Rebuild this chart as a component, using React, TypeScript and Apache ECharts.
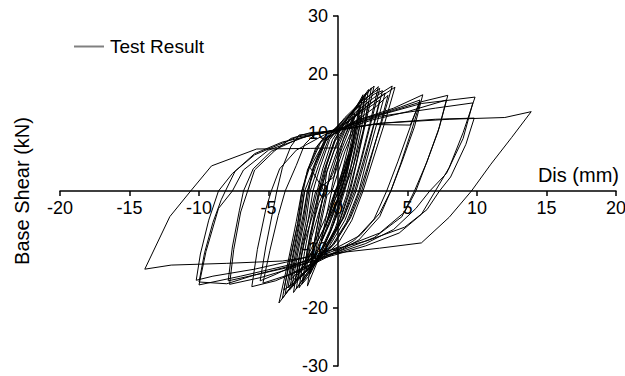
import React, { useEffect, useRef } from "react";
import * as echarts from "echarts";

const xTicks = { min: -20, max: 20, interval: 5 };
const yTicks = { min: -30, max: 30, interval: 10 };
const seriesName = "Test Result";

const c01 = [[0,0],[0.3,2.2],[0.5,3.8],[0.3,2.0],[0,0],[-0.3,-2.0],[-0.6,-3.9],[-0.4,-2.1],[-0.1,0]];
const c02 = [[0.2,2.0],[0.5,4.4],[0.8,6.3],[0.5,3.6],[0.1,0.3],[-0.4,-2.6],[-0.9,-6.2],[-0.6,-3.4],[-0.2,0]];
const c03 = [[0.2,2.6],[0.7,6.0],[1.1,8.6],[0.8,5.0],[0.3,0.6],[-0.3,-3.2],[-1.2,-8.6],[-0.9,-5.0],[-0.5,-0.5]];
const c04 = [[-0.1,2.4],[0.5,6.8],[1.2,10.8],[0.9,6.2],[0.3,0.8],[-0.3,-3.8],[-1.0,-7.6],[-1.7,-11.6],[-1.3,-6.4],[-0.8,-0.8]];
const e01 = [[-0.5,0],[-0.1,4.6],[0.4,9.0],[1.1,12.8],[0.8,8.2],[0.2,2.4],[-0.3,-1.2],[-0.9,-6.0],[-1.7,-11.2],[-2.3,-13.8],[-1.9,-8.0],[-1.2,-2.2],[-0.9,0]];
const e02 = [[-0.6,2.0],[0,6.6],[0.8,11.0],[1.6,14.6],[1.2,9.6],[0.6,3.8],[-0.2,0],[-0.9,-4.6],[-1.9,-9.8],[-2.9,-14.4],[-2.4,-8.6],[-1.7,-3.2],[-1.3,0]];
const e03 = [[-0.9,2.6],[-0.3,6.8],[0.5,10.6],[1.4,13.2],[2.2,15.4],[1.8,10.2],[1.1,4.2],[0.4,0],[-0.4,-3.4],[-1.3,-7.8],[-2.3,-12.2],[-3.1,-15.6],[-2.6,-9.4],[-2.0,-3.8],[-1.6,0]];
const e04 = [[-0.3,2.4],[0.3,6.6],[1.0,10.4],[1.6,13.0],[1.2,8.4],[0.6,2.8],[0.1,-0.6],[-0.6,-4.4],[-1.5,-8.8],[-2.4,-12.8],[-2.0,-7.4],[-1.4,-2.2],[-1.0,0]];
const c05 = [[-0.4,2.8],[0.3,7.4],[1.0,11.6],[1.5,14.0],[1.1,9.0],[0.5,2.6],[0.1,-1.8],[-0.6,-6.8],[-1.4,-11.0],[-2.0,-14.2],[-1.6,-8.8],[-1.1,-3.0],[-0.8,0]];
const c06 = [[-0.6,3.2],[0.1,8.0],[0.9,12.6],[1.8,16.5],[1.3,10.4],[0.7,3.4],[0.2,-1.4],[-0.5,-6.8],[-1.4,-11.6],[-2.2,-16.3],[-1.8,-10.2],[-1.3,-3.6],[-1.0,0]];
const c07 = [[-0.8,3.4],[-0.1,8.2],[0.8,12.4],[1.6,15.4],[2.2,17.4],[1.7,11.0],[1.1,4.2],[0.6,-0.8],[-0.2,-6.4],[-1.3,-11.4],[-2.3,-14.8],[-2.8,-16.6],[-2.4,-10.4],[-1.9,-4.0],[-1.5,0]];
const c08 = [[-1.1,3.8],[-0.4,8.8],[0.5,12.0],[1.6,15.2],[2.4,17.7],[1.9,11.2],[1.3,4.6],[0.8,0],[0.1,-5.2],[-0.9,-10.0],[-2.1,-13.6],[-3.0,-16.8],[-2.6,-10.6],[-2.1,-4.4],[-1.8,0]];
const c09 = [[-1.3,4.0],[-0.6,8.8],[0.4,11.8],[1.6,14.8],[2.9,17.9],[2.3,11.6],[1.6,5.0],[1.0,0],[0.3,-4.8],[-0.8,-9.6],[-2.0,-13.0],[-3.5,-17.0],[-3.0,-11.0],[-2.5,-5.0],[-2.2,0]];
const c10 = [[-1.6,4.2],[-0.8,9.0],[0.2,11.6],[1.4,14.2],[2.6,16.6],[3.2,17.2],[2.6,11.4],[1.9,5.0],[1.3,0],[0.5,-5.0],[-0.6,-9.4],[-1.8,-12.6],[-3.0,-15.4],[-3.8,-17.6],[-3.3,-11.6],[-2.8,-5.4],[-2.4,0]];
const c11 = [[-1.7,4.2],[-0.9,8.6],[0,10.4],[1.2,12.8],[2.6,15.4],[4.1,17.8],[3.4,12.0],[2.6,6.0],[1.8,0],[1.0,-5.0],[0,-9.0],[-1.4,-12.0],[-2.8,-14.6],[-4.25,-19.2],[-3.6,-12.2],[-3.0,-5.2],[-2.6,0]];
const c12 = [[-2.0,4.4],[-1.2,8.6],[0,10.2],[1.4,12.2],[2.8,14.6],[3.6,16.4],[3.0,11.0],[2.3,5.0],[1.7,0],[0.9,-4.6],[-0.2,-8.8],[-1.6,-11.8],[-2.8,-14.0],[-3.6,-16.6],[-3.2,-11.0],[-2.7,-5.0],[-2.4,0]];
const d01 = [[-1.2,0],[-0.8,4.5],[-0.2,9.0],[0.8,12.8],[1.9,16.0],[1.5,10.6],[0.9,4.0],[0.4,0],[-0.3,-5.6],[-1.2,-10.6],[-2.1,-14.6],[-2.6,-16.0],[-2.2,-10.0],[-1.7,-4.0],[-1.4,0]];
const d02 = [[-1.0,3.6],[-0.3,8.4],[0.7,12.6],[1.7,15.8],[2.6,18.0],[2.0,11.8],[1.4,5.4],[0.9,0.2],[0.1,-5.4],[-1.0,-10.4],[-2.2,-14.0],[-3.2,-17.4],[-2.8,-11.2],[-2.3,-5.2],[-2.0,0]];
const d03 = [[-1.4,4.4],[-0.6,9.4],[0.5,12.6],[1.8,15.6],[3.0,17.6],[2.4,12.0],[1.7,5.4],[1.1,0.2],[0.4,-4.6],[-0.6,-9.0],[-1.8,-12.4],[-3.3,-16.2],[-2.9,-10.8],[-2.4,-4.8],[-2.1,0]];
const d04 = [[-1.8,4.0],[-1.0,8.6],[0.2,11.4],[1.5,14.0],[2.7,16.2],[3.9,18.0],[3.2,12.2],[2.4,6.2],[1.6,0.2],[0.8,-4.8],[-0.3,-9.2],[-1.6,-12.2],[-2.9,-15.0],[-4.0,-18.4],[-3.5,-12.0],[-2.9,-5.6],[-2.5,0]];
const d05 = [[-2.2,3.6],[-1.4,8.0],[-0.3,10.2],[1.0,12.4],[2.2,14.8],[3.4,16.8],[2.8,11.6],[2.1,5.6],[1.5,0],[0.6,-5.4],[-0.5,-9.6],[-1.8,-12.8],[-3.2,-15.8],[-3.9,-17.0],[-3.4,-11.4],[-2.9,-5.6],[-2.6,0]];
const d06 = [[-2.3,2.6],[-1.6,7.4],[-0.8,9.8],[0.6,11.8],[1.9,13.8],[3.0,15.6],[2.5,10.8],[1.8,5.0],[1.2,0],[0.4,-4.6],[-0.8,-9.0],[-2.0,-11.8],[-3.0,-14.2],[-3.4,-15.2],[-3.0,-9.8],[-2.5,-4.0],[-2.2,0]];
const d07 = [[-1.6,5.0],[-0.7,9.6],[0.4,12.2],[1.4,14.4],[2.0,16.8],[1.6,11.4],[1.1,5.6],[0.6,1.0],[0,-3.8],[-0.8,-8.2],[-1.8,-12.8],[-2.5,-15.4],[-2.1,-9.6],[-1.6,-3.6],[-1.3,0]];
const d08 = [[-0.9,4.0],[-0.2,8.6],[0.6,11.2],[1.2,13.4],[1.0,9.0],[0.5,3.6],[0.1,-0.6],[-0.6,-5.6],[-1.5,-10.4],[-2.0,-12.6],[-1.6,-7.4],[-1.2,-2.4],[-1.0,0]];
const c13 = [[-2.0,4.0],[-1.0,8.4],[0,10.3],[1.5,12.3],[3.0,13.2],[4.5,14.4],[5.9,15.6],[5.2,11.0],[4.3,5.0],[3.5,0],[2.6,-4.8],[1.2,-8.4],[0,-10.2],[-2.0,-12.6],[-3.6,-14.4],[-5.4,-15.8],[-4.9,-10.2],[-4.3,-4.2],[-3.8,0]];
const c14 = [[-3.0,4.4],[-2.4,8.0],[-1.6,9.9],[0,10.5],[2.0,12.6],[4.0,14.2],[6.1,16.5],[5.5,11.0],[4.6,5.0],[3.8,0],[3.0,-4.4],[1.5,-8.4],[0,-10.4],[-2.5,-13.4],[-4.5,-15.4],[-6.2,-16.4],[-5.8,-10.0],[-5.2,-3.2],[-4.8,0]];
const c15 = [[-4.2,3.8],[-3.0,7.0],[-1.0,9.6],[0,10.4],[2.5,11.4],[5.2,11.3],[5.6,13.6],[5.9,15.2],[5.3,10.4],[4.5,4.6],[3.8,0],[3.0,-3.8],[1.6,-7.6],[0,-9.6],[-2.6,-12.2],[-4.6,-14.4],[-5.6,-15.4],[-5.2,-9.6],[-4.7,-3.6],[-4.4,0]];
const c16 = [[-4.0,4.0],[-3.4,7.6],[-2.8,9.6],[0,10.4],[2.0,12.4],[4.0,13.8],[6.0,15.3],[7.9,16.4],[7.3,11.0],[6.4,5.0],[5.5,0],[4.6,-4.4],[2.6,-8.0],[0,-10.4],[-3.0,-13.0],[-5.5,-14.8],[-7.8,-16.0],[-7.5,-10.0],[-7.0,-3.6],[-6.5,0]];
const c17 = [[-6.0,3.6],[-4.6,6.8],[-3.4,9.0],[-2.0,10.0],[0,10.3],[2.5,12.2],[5.0,13.6],[7.8,15.6],[7.2,10.2],[6.3,4.4],[5.6,0],[4.8,-3.6],[3.0,-7.2],[0,-10.0],[-3.0,-12.6],[-6.0,-14.4],[-7.9,-15.4],[-7.6,-9.6],[-7.1,-3.4],[-6.8,0]];
const c18 = [[-6.1,3.8],[-4.8,6.8],[-2.6,9.2],[0,10.5],[3.0,13.0],[6.0,15.0],[9.86,16.1],[9.0,10.0],[8.0,4.0],[7.0,0],[6.0,-4.0],[4.4,-7.2],[2.0,-9.4],[0,-10.8],[-3.0,-12.8],[-6.0,-14.4],[-8.0,-15.9],[-10.0,-15.6],[-9.6,-10.6],[-9.0,-5.4],[-8.4,-1.5],[-8.1,0]];
const c19 = [[-7.4,3.4],[-6.0,6.4],[-4.0,8.4],[-1.0,10.0],[0,10.6],[3.0,12.8],[7.0,14.2],[9.7,15.1],[9.0,9.0],[7.8,3.0],[6.6,0],[5.6,-3.0],[4.0,-6.6],[2.0,-9.0],[0,-10.6],[-3.0,-12.4],[-7.0,-14.6],[-10.0,-16.1],[-9.5,-10.4],[-8.6,-3.0],[-7.6,0]];
const c20 = [[-6.8,3.6],[-5.0,7.0],[-2.2,9.4],[0,10.4],[3.0,11.6],[7.0,12.3],[9.8,12.5],[9.2,8.0],[8.1,2.4],[7.3,0],[6.4,-3.2],[4.8,-6.2],[2.0,-8.6],[0,-9.8],[-3.0,-11.8],[-6.0,-13.4],[-9.0,-14.6],[-10.2,-15.3],[-9.9,-10.8],[-9.3,-5.0],[-8.6,0]];
const c21 = [[-7.6,3.0],[-6.0,6.2],[-3.0,9.2],[0,10.6],[3.0,11.6],[8.0,12.3],[12.0,12.6],[13.9,13.6],[12.5,9.2],[11.0,4.6],[9.6,0],[8.0,-4.5],[6.0,-8.9],[3.0,-9.8],[0,-10.6],[-4.0,-12.0],[-8.0,-12.4],[-12.0,-12.7],[-13.9,-13.4],[-12.1,-4.4],[-10.6,0],[-9.1,4.3],[-5.85,7.2],[-2.0,7.3],[0,7.4]];

const cycles = [c01,c02,c03,c04,e01,e02,e03,e04,c05,c06,c07,c08,c09,c10,c11,c12,d01,d02,d03,d04,d05,d06,d07,d08,c13,c14,c15,c16,c17,c18,c19,c20,c21];

const FONT = "'Liberation Sans', Arial, sans-serif";

export default function App() {
  const ref = useRef<HTMLDivElement>(null);
  useEffect(() => {
    if (!ref.current) return;
    const chart = echarts.init(ref.current, undefined, { renderer: "svg" });
    const data: number[][] = [];
    cycles.forEach((c) => c.forEach((p) => data.push(p)));
    chart.setOption({
      animation: false,
      backgroundColor: "#fff",
      textStyle: { fontFamily: FONT },
      grid: { left: 60, right: 9, top: 16, bottom: 10, containLabel: false, outerBoundsMode: "none" },
      legend: {
        data: [{ name: seriesName, icon: "rect" }],
        left: 69,
        top: 32,
        itemWidth: 30,
        itemHeight: 2,
        itemGap: 5,
        itemStyle: { color: "#808080", borderWidth: 0 },
        textStyle: { fontSize: 19, color: "#000", fontFamily: FONT, padding: [0, 0, 0, 1] },
      },
      xAxis: {
        type: "value",
        position: "bottom",
        offset: -175,
        min: xTicks.min,
        max: xTicks.max,
        interval: xTicks.interval,
        name: "Dis (mm)",
        nameLocation: "end",
        nameGap: 3,
        nameTextStyle: { fontSize: 20, color: "#000", align: "right", verticalAlign: "bottom", padding: [0, 0, 6, 0], fontFamily: FONT },
        axisLine: { onZero: false, lineStyle: { color: "#000", width: 1.5 } },
        axisTick: { show: true, length: 5, lineStyle: { color: "#000", width: 1.5 } },
        axisLabel: { fontSize: 18, color: "#000", margin: 8, fontFamily: FONT },
        splitLine: { show: false },
      },
      yAxis: {
        type: "value",
        position: "left",
        offset: -278,
        min: yTicks.min,
        max: yTicks.max,
        interval: yTicks.interval,
        name: "Base Shear (kN)",
        nameLocation: "middle",
        nameGap: 306,
        nameTextStyle: { fontSize: 20, color: "#000", fontFamily: FONT },
        axisLine: { onZero: false, lineStyle: { color: "#000", width: 1.5 } },
        axisTick: { show: true, length: 5, lineStyle: { color: "#000", width: 1.5 } },
        axisLabel: { fontSize: 18, color: "#000", margin: 10, fontFamily: FONT },
        splitLine: { show: false },
      },
      series: [
        {
          name: seriesName,
          type: "line",
          data,
          symbol: "none",
          showSymbol: false,
          lineStyle: { color: "#000", width: 1 },
          itemStyle: { color: "#000" },
          z: 3,
        },
      ],
    });
    return () => chart.dispose();
  }, []);
  return <div ref={ref} style={{ position: "fixed", left: 0, top: 0, width: 625, height: 376 }} />;
}
